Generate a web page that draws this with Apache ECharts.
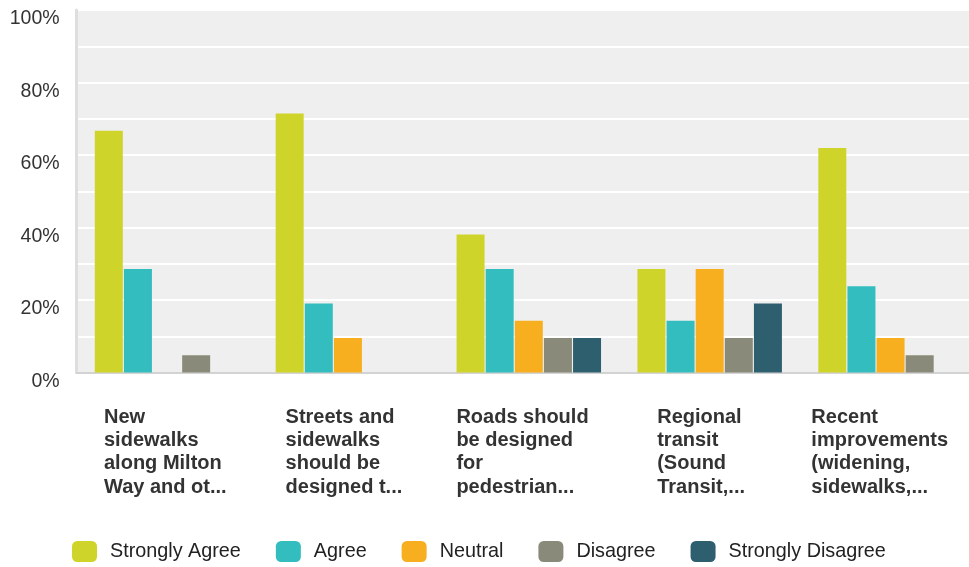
<!DOCTYPE html>
<html>
<head>
<meta charset="utf-8">
<script src="https://cdn.jsdelivr.net/npm/echarts@6/dist/echarts.min.js"></script>
<style>
  html, body { margin: 0; padding: 0; background: #fff; overflow: hidden; }
  #chart { width: 981px; height: 567px; }
</style>
</head>
<body>
<div id="chart"></div>
<script>
// Survey statements (as wrapped on the axis) and answer shares in percent
var categories = [
  'New\nsidewalks\nalong Milton\nWay and ot...',
  'Streets and\nsidewalks\nshould be\ndesigned t...',
  'Roads should\nbe designed\nfor\npedestrian...',
  'Regional\ntransit\n(Sound\nTransit,...',
  'Recent\nimprovements\n(widening,\nsidewalks,...'
];
var seriesNames = ['Strongly Agree', 'Agree', 'Neutral', 'Disagree', 'Strongly Disagree'];
var stronglyAgree    = [66.67, 71.43, 38.10, 28.57, 61.90];
var agree            = [28.57, 19.05, 28.57, 14.29, 23.81];
var neutral          = [0, 9.52, 14.29, 28.57, 9.52];
var disagree         = [4.76, 0, 9.52, 9.52, 4.76];
var stronglyDisagree = [0, 0, 9.52, 19.05, 0];
var yTicks = [0, 20, 40, 60, 80, 100];

var palette = ['#cfd42a', '#33bdbf', '#f7ae1f', '#8a8a7a', '#2e5f6e'];
var values = [stronglyAgree, agree, neutral, disagree, stronglyDisagree];
var FONT = '"Liberation Sans", Arial, Helvetica, sans-serif';

var chart = echarts.init(document.getElementById('chart'), null, { renderer: 'canvas' });

var series = seriesNames.map(function (name, i) {
  return {
    name: name,
    type: 'bar',
    data: values[i],
    barWidth: 28,
    barGap: '4%',
    itemStyle: { color: palette[i] },
    emphasis: { disabled: true }
  };
});

chart.setOption({
  animation: false,
  color: palette,
  textStyle: { fontFamily: FONT },
  grid: [
    // plot area holding the bars (runs past the visible right edge)
    {
      left: 76.6,
      right: 0,
      top: 10,
      bottom: 194.5,
      show: true,
      backgroundColor: '#efefef',
      borderWidth: 0,
      containLabel: false
    },
    // band used only to place the category captions
    {
      left: 76,
      width: 893,
      top: 10,
      bottom: 194.5,
      show: false,
      containLabel: false
    }
  ],
  legend: {
    left: 72,
    top: 541,
    padding: 0,
    itemWidth: 25,
    itemHeight: 21,
    itemGap: 35,
    icon: 'roundRect',
    selectedMode: false,
    data: seriesNames,
    textStyle: {
      fontFamily: FONT,
      fontSize: 19.8,
      color: '#222',
      padding: [0, 0, 0, 8]
    }
  },
  xAxis: [
    {
      type: 'category',
      gridIndex: 0,
      data: categories,
      axisTick: { show: false },
      axisLine: { show: true, lineStyle: { color: '#d3d3d3', width: 2 } },
      splitLine: { show: false },
      axisLabel: { show: false }
    },
    {
      type: 'category',
      gridIndex: 1,
      data: categories,
      axisTick: { show: false },
      axisLine: { show: false },
      splitLine: { show: false },
      axisLabel: {
        interval: 0,
        margin: 33,
        align: 'center',
        verticalAlign: 'top',
        formatter: function (v) {
          return v.split('\n').map(function (l) { return '{t|' + l + '}'; }).join('\n');
        },
        rich: {
          t: {
            align: 'left',
            fontFamily: FONT,
            fontSize: 20,
            fontWeight: 'bold',
            lineHeight: 23.3,
            color: '#333'
          }
        }
      }
    }
  ],
  yAxis: [
    {
      type: 'value',
      gridIndex: 0,
      min: 0,
      max: 100,
      interval: 10,
      axisLine: { show: true, lineStyle: { color: '#dedede', width: 3 } },
      axisTick: { show: false },
      splitLine: { show: true, lineStyle: { color: '#ffffff', width: 2 } },
      axisLabel: {
        margin: 17,
        fontFamily: FONT,
        fontSize: 19.5,
        color: '#333',
        verticalAlign: 'top',
        lineHeight: 18,
        formatter: function (v) {
          return yTicks.indexOf(v) >= 0 ? v + '%' : '';
        }
      }
    },
    {
      type: 'value',
      gridIndex: 1,
      min: 0,
      max: 100,
      show: false
    }
  ],
  series: series
});
</script>
</body>
</html>
